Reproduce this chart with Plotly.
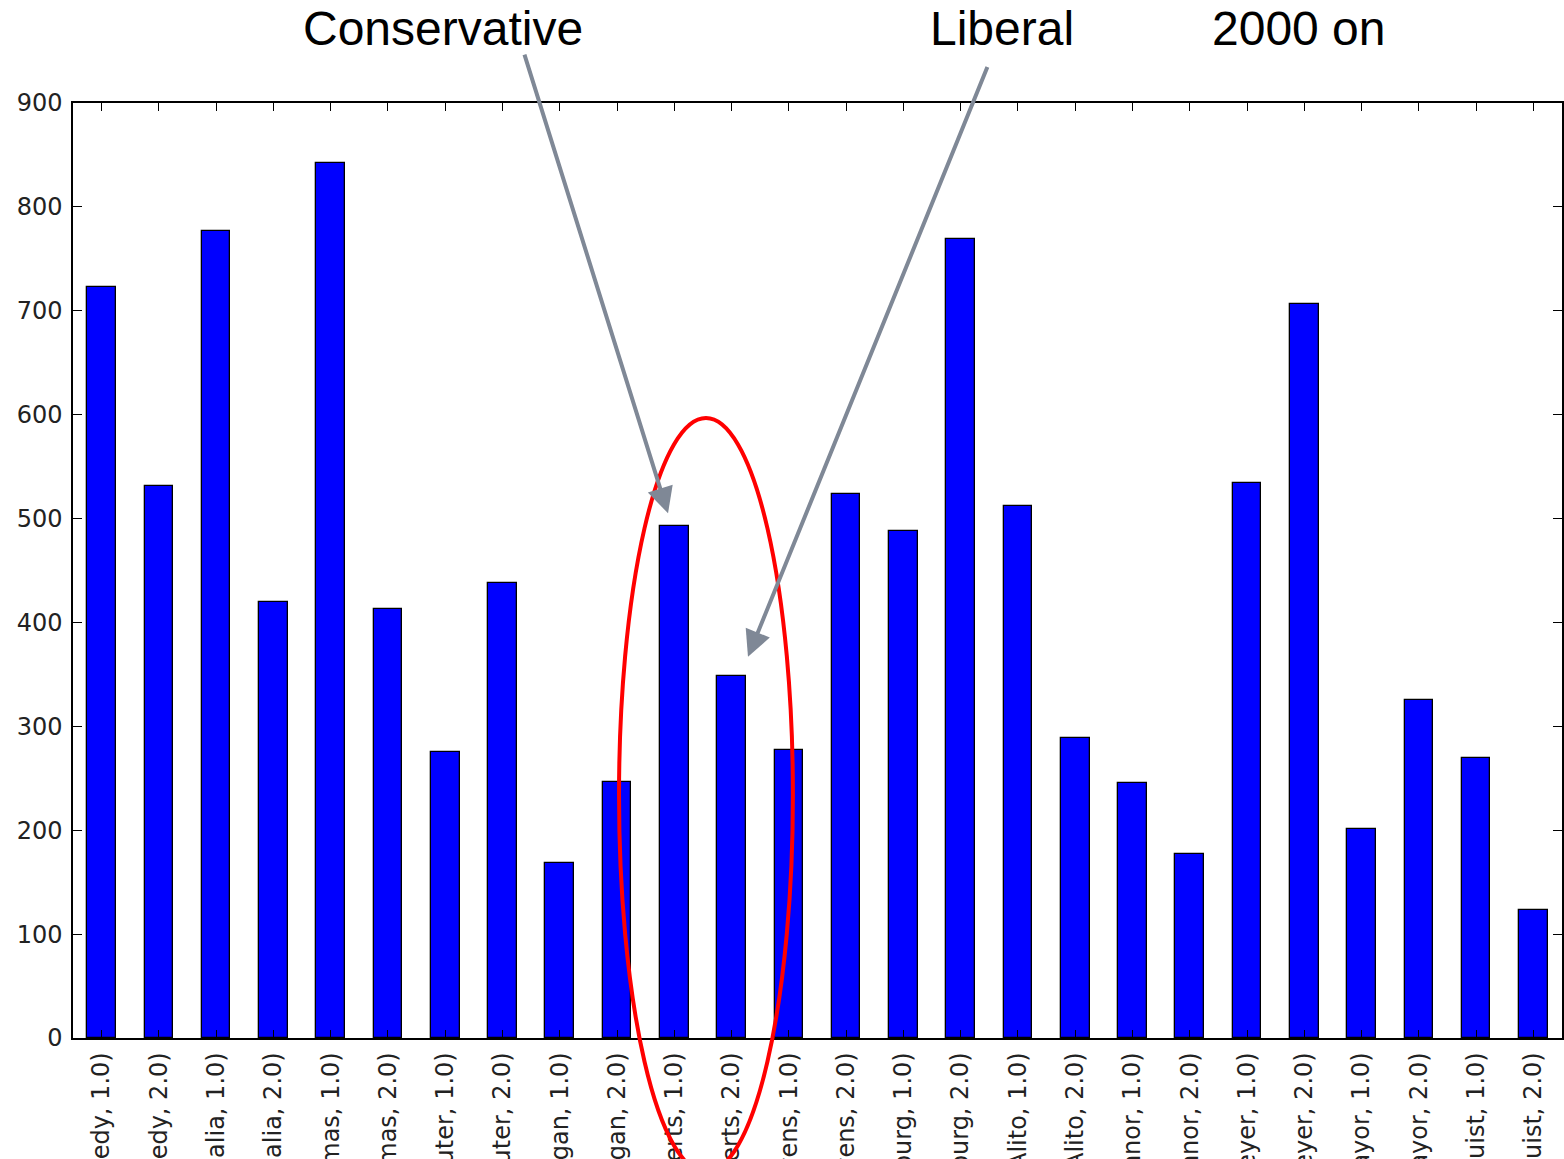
import plotly.graph_objects as go

justices = ["Kennedy", "Scalia", "Thomas", "Souter", "Kagan", "Roberts", "Stevens",
            "Ginsburg", "Alito", "O'Connor", "Breyer", "Sotomayor", "Rehnquist"]
directions = ["1.0", "2.0"]
categories = [f"({j}, {d})" for j in justices for d in directions]
counts = [723, 531, 777, 420, 842, 413, 275, 438, 168, 246, 493, 348, 277, 524,
          488, 769, 512, 289, 245, 177, 534, 707, 201, 325, 270, 123]
y_ticks = [0, 100, 200, 300, 400, 500, 600, 700, 800, 900]

fig = go.Figure()
fig.add_trace(go.Bar(
    x=list(range(len(categories))), y=counts, width=0.5,
    marker=dict(color="#0000ff", line=dict(color="black", width=1.3)),
))

axis_font = dict(family="DejaVu Sans", size=24, color="#222222")
fig.update_layout(
    width=1564, height=1159,
    margin=dict(l=73, r=2, t=103, b=121, autoexpand=False),
    paper_bgcolor="white", plot_bgcolor="white",
    showlegend=False, bargap=0,
    xaxis=dict(range=[-0.5, len(categories) - 0.5], tickmode="array",
               tickvals=list(range(len(categories))), ticktext=categories,
               tickangle=-90, ticks="inside", ticklen=8, tickwidth=1, tickcolor="black",
               showline=True, linecolor="black", linewidth=1.5, mirror="ticks",
               showgrid=False, zeroline=False, tickfont=axis_font, automargin=False,
               ticklabelstandoff=3),
    yaxis=dict(range=[0, 900], tickmode="array", tickvals=y_ticks,
               ticks="inside", ticklen=9, tickwidth=1, tickcolor="black",
               showline=True, linecolor="black", linewidth=1.5, mirror="ticks",
               showgrid=False, zeroline=False, tickfont=axis_font, automargin=False,
               ticklabelstandoff=4),
)

title_font = dict(family="Liberation Sans", size=48, color="black")
for txt, xp in [("Conservative", 0.2485), ("Liberal", 0.6239), ("2000 on", 0.8237)]:
    fig.add_annotation(text=txt, xref="paper", yref="paper", x=xp, y=1.0802,
                       xanchor="center", yanchor="middle", showarrow=False, font=title_font)

arrow_color = "#7f8896"
fig.add_annotation(text="", x=9.89, y=505, xref="x", yref="y",
                   ax=7.375, ay=948, axref="x", ayref="y",
                   showarrow=True, arrowhead=2, arrowsize=1.3, arrowwidth=4,
                   arrowcolor=arrow_color, standoff=0)
fig.add_annotation(text="", x=11.286, y=367, xref="x", yref="y",
                   ax=15.477, ay=936, axref="x", ayref="y",
                   showarrow=True, arrowhead=2, arrowsize=1.3, arrowwidth=4,
                   arrowcolor=arrow_color, standoff=0)

fig.add_shape(type="circle", xref="paper", yref="paper",
              x0=0.3667, x1=0.4835, y0=-0.1433, y1=0.6631,
              line=dict(color="#ff0000", width=4), layer="above")

fig.write_html("out.html")
